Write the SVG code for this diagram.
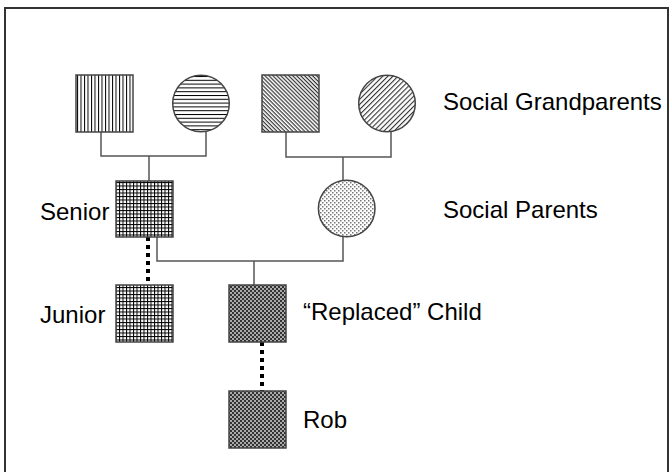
<svg xmlns="http://www.w3.org/2000/svg" width="670" height="472" viewBox="0 0 670 472">
<style>
.lbl{font-family:"Liberation Sans",Arial,sans-serif;font-size:24px;fill:#000}
.shape{stroke:#444;stroke-width:1.5}
.conn{stroke:#555;stroke-width:1.5;fill:none}
.dot{stroke:#000;stroke-width:4;stroke-dasharray:4 4;fill:none}
</style>
<defs>
<pattern id="pV" patternUnits="userSpaceOnUse" width="3.5" height="10">
<rect width="3.5" height="10" fill="#fff"/><rect x="0" width="1" height="10" fill="#000"/>
</pattern>
<pattern id="pH" patternUnits="userSpaceOnUse" width="10" height="3.8">
<rect width="10" height="3.8" fill="#fff"/><rect y="0" width="10" height="1" fill="#000"/>
</pattern>
<pattern id="pD" patternUnits="userSpaceOnUse" width="10" height="2.8" patternTransform="rotate(45)">
<rect width="10" height="2.8" fill="#fff"/><rect width="10" height="1.2" fill="#333"/>
</pattern>
<pattern id="pU" patternUnits="userSpaceOnUse" width="10" height="3.6" patternTransform="rotate(-45)">
<rect width="10" height="3.6" fill="#fff"/><rect width="10" height="1.1" fill="#333"/>
</pattern>
<pattern id="pG" patternUnits="userSpaceOnUse" width="3.5" height="3.5">
<rect width="3.5" height="3.5" fill="#fff"/><rect width="3.5" height="1" fill="#000"/><rect width="1" height="3.5" fill="#000"/>
</pattern>
<pattern id="pS" patternUnits="userSpaceOnUse" width="4" height="4">
<rect width="4" height="4" fill="#fff"/><rect width="1.5" height="1.5" fill="#777"/><rect x="2" y="2" width="1.5" height="1.5" fill="#777"/>
</pattern>
<pattern id="pC" patternUnits="userSpaceOnUse" width="4" height="4">
<rect width="4" height="4" fill="#aaa"/><rect width="2" height="2" fill="#333"/><rect x="2" y="2" width="2" height="2" fill="#333"/>
</pattern>
</defs>
<rect x="5" y="8" width="663" height="470" fill="#fff" stroke="#333" stroke-width="2"/>
<g id="connectors">
<polyline class="conn" points="101,132 101,156 206,156 206,132"/>
<line class="conn" x1="149" y1="156" x2="149" y2="181"/>
<polyline class="conn" points="286,132 286,157 391,157 391,131"/>
<line class="conn" x1="343" y1="157" x2="343" y2="180"/>
<polyline class="conn" points="157,237 157,261 343,261 343,237"/>
<line class="conn" x1="254" y1="261" x2="254" y2="285"/>
<line class="dot" x1="148" y1="237" x2="148" y2="285"/>
<line class="dot" x1="262" y1="342" x2="262" y2="391"/>
</g>
<g id="gp1"><rect class="shape" x="76" y="75" width="57" height="57" fill="url(#pV)"/></g>
<g id="gp2"><circle class="shape" cx="201" cy="103.5" r="28.3" fill="url(#pH)"/></g>
<g id="gp3"><rect class="shape" x="262" y="75" width="57" height="57" fill="url(#pD)"/></g>
<g id="gp4"><circle class="shape" cx="387" cy="103.5" r="28.3" fill="url(#pU)"/></g>
<g id="senior"><rect class="shape" x="116" y="181" width="57" height="56" fill="url(#pG)"/></g>
<g id="socialParent"><circle class="shape" cx="346.7" cy="208.5" r="28.3" fill="url(#pS)"/></g>
<g id="junior"><rect class="shape" x="116" y="285" width="57" height="57" fill="url(#pG)"/></g>
<g id="replaced"><rect class="shape" x="229" y="285" width="57" height="57" fill="url(#pC)"/></g>
<g id="rob"><rect class="shape" x="229" y="391" width="57" height="57" fill="url(#pC)"/></g>
<g id="labels">
<text class="lbl" x="443" y="110">Social Grandparents</text>
<text class="lbl" x="443" y="218">Social Parents</text>
<text class="lbl" x="40" y="220">Senior</text>
<text class="lbl" x="40" y="323">Junior</text>
<text class="lbl" x="303" y="320">“Replaced” Child</text>
<text class="lbl" x="303" y="428">Rob</text>
</g>
</svg>
